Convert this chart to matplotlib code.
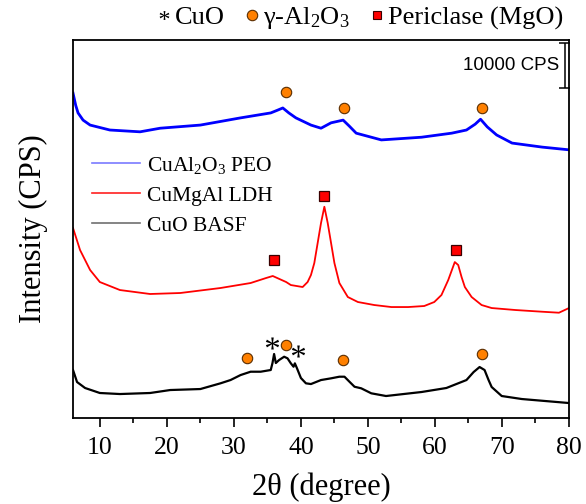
import matplotlib
matplotlib.use("Agg")
import matplotlib.pyplot as plt
from matplotlib.lines import Line2D
from matplotlib.markers import MarkerStyle
from matplotlib.path import Path
from matplotlib.text import TextPath
from matplotlib.font_manager import FontProperties

# ========== CONFIG ==========
OUT_FILE = "out.png"
SERIF = "Liberation Serif"
SANS = "Liberation Sans"
# ============================

# --- XRD patterns (2theta in degree, intensity in CPS, before stacking) ---
peo_tt = [6.0, 6.4, 6.75, 7.5, 8.55, 11.5, 16.0, 19.0, 25.0, 31.0, 35.5, 36.5,
          37.3, 38.2, 39.25, 41.5, 43.0, 44.5, 46.3, 47.2, 48.25, 52.0, 58.0,
          62.5, 64.7, 66.0, 66.8, 67.8, 69.2, 71.5, 76.0, 80.0]
peo_cps = [22200, 19500, 17800, 16200, 15100, 14000, 13600, 14400, 15100, 16700,
           17800, 18400, 18900, 17800, 16700, 15100, 14400, 15600, 16200, 14900,
           13300, 11800, 12400, 13300, 14000, 15300, 16400, 14700, 12900, 11100,
           10200, 9600]

ldh_tt = [6.0, 7.05, 8.55, 10.0, 13.0, 17.5, 22.0, 28.0, 32.5, 34.8, 35.8, 37.8,
          38.5, 40.26, 41.0, 41.5, 42.0, 42.5, 43.0, 43.5, 44.0, 44.5, 45.0,
          45.74, 47.0, 48.5, 50.94, 53.5, 56.0, 58.4, 59.9, 60.97, 61.98, 62.96,
          63.47, 63.97, 64.46, 65.47, 66.96, 68.46, 72.0, 76.0, 78.5, 80.0]
ldh_cps = [22220, 17330, 12890, 10220, 8440, 7560, 7780, 8890, 10000, 11110,
           11560, 10220, 9550, 9110, 10220, 11780, 14440, 18890, 23330, 26950,
           23330, 18890, 14440, 10000, 6890, 5780, 5110, 4660, 4660, 4890, 5780,
           7330, 10660, 14660, 14000, 11330, 9110, 6890, 5110, 4440, 4000, 3620,
           3400, 4440]

cuo_tt = [6.0, 6.6, 7.8, 10.0, 13.0, 17.5, 20.5, 25.0, 28.0, 29.5, 31.0, 32.5,
          34.0, 35.5, 35.76, 36.0, 36.26, 36.75, 37.5, 38.0, 38.5, 38.9, 39.1,
          39.4, 40.0, 40.75, 41.5, 43.0, 44.5, 45.74, 46.5, 47.24, 48.0, 49.0,
          50.5, 52.7, 58.0, 61.7, 64.7, 65.77, 66.66, 67.4, 68.0, 68.46, 69.96,
          72.96, 80.0]
cuo_cps = [10670, 8000, 6670, 5560, 5330, 5560, 6220, 6440, 7710, 8440, 9550,
           10290, 10290, 10670, 12220, 14220, 12220, 12890, 13620, 13270, 12150,
           11400, 12150, 11110, 8890, 7710, 7550, 8440, 8820, 9180, 9180, 8070,
           6950, 6600, 5490, 4890, 5780, 6670, 8440, 10220, 11330, 10670, 8440,
           6890, 4890, 4220, 3330]

offsets = [50000, 20000, 0]
labels = ["CuAl$_2$O$_3$ PEO", "CuMgAl LDH", "CuO BASF"]
colors = ["#0000ff", "#ff0000", "#000000"]
legend_colors = ["#7a7aff", "#ff2020", "#707070"]

# --- phase markers (2theta, stacked height) ---
al2o3_tt = [37.76, 46.44, 66.96, 32.0, 37.76, 46.25, 66.96]
al2o3_y = [72440, 68880, 68880, 13270, 16220, 12890, 14220]
mgo_tt = [35.96, 43.5, 63.07]
mgo_y = [35110, 49330, 37330]
cuo_mark_tt = [35.76, 39.6]
cuo_mark_y = [16730, 14950]

SCALE_CPS = 10000


def star_marker():
    """Times-like asterisk as a marker path, centred on its glyph."""
    tp = TextPath((0, 0), "*", prop=FontProperties(family=SERIF))
    verts = tp.vertices.copy()
    real = tp.codes != Path.CLOSEPOLY
    lo, hi = verts[real].min(axis=0), verts[real].max(axis=0)
    verts -= (lo + hi) / 2
    verts[~real] = 0.0
    return MarkerStyle(Path(verts, tp.codes))


def make_plot():
    plt.rcParams["font.family"] = [SERIF, "DejaVu Serif"]
    plt.rcParams["mathtext.fontset"] = "custom"
    plt.rcParams["mathtext.rm"] = SERIF
    plt.rcParams["mathtext.it"] = SERIF + ":italic"

    fig = plt.figure(figsize=(5.86, 5.04), dpi=100)
    ax = fig.add_axes([0.1246, 0.1706, 0.8464, 0.75])
    star = star_marker()

    patterns = [(peo_tt, peo_cps), (ldh_tt, ldh_cps), (cuo_tt, cuo_cps)]
    widths = [2.0, 1.3, 1.6]
    for (tt, cps), off, c, lw in zip(patterns, offsets, colors, widths):
        ax.plot(tt, [v + off for v in cps], color=c, lw=lw, zorder=2)

    ax.plot(al2o3_tt, al2o3_y, "o", ms=7.5, mfc="#ff8000", mec="#5a2d00",
            mew=0.8, zorder=3)
    ax.plot(mgo_tt, mgo_y, "s", ms=6.5, mfc="#ff0000", mec="#3a0000",
            mew=0.9, zorder=3)
    ax.plot(cuo_mark_tt, cuo_mark_y, ls="none", marker=star, ms=9.5,
            color="black", mew=0, zorder=3)

    # scale bar
    ax.errorbar([79.4], [78440], yerr=SCALE_CPS / 2, color="black",
                capsize=4, lw=1.1, capthick=1.1)
    ax.text(78.5, 78440, "%d CPS" % SCALE_CPS, ha="right", va="center",
            fontsize=13.5, family=SANS)

    ax.set_xlim(6, 80)
    ax.set_ylim(0, 84000)
    ax.set_xticks(range(10, 81, 10))
    ax.set_xticks(range(15, 80, 10), minor=True)
    ax.set_yticks([])
    ax.tick_params(axis="x", which="major", direction="out", length=6.5,
                   width=1.2, labelsize=18.5, pad=7)
    ax.tick_params(axis="x", which="minor", direction="out", length=3.5,
                   width=1.2)
    for sp in ax.spines.values():
        sp.set_linewidth(1.3)

    ax.set_xlabel("2θ (degree)", fontsize=22, labelpad=10)
    ax.set_ylabel("Intensity (CPS)", fontsize=22, labelpad=18)

    handles = [Line2D([], [], color=c, lw=1.2) for c in legend_colors]
    ax.legend(handles, labels, loc="upper left", bbox_to_anchor=(0.0, 0.747),
              frameon=False, fontsize=15.5, handlelength=2.2,
              handletextpad=0.33, labelspacing=0.45)

    top_handles = [
        Line2D([], [], ls="none", marker=star, ms=7, color="black", mew=0),
        Line2D([], [], ls="none", marker="o", ms=7.5, mfc="#ff8000",
               mec="#5a2d00", mew=0.8),
        Line2D([], [], ls="none", marker="s", ms=6, mfc="#ff0000",
               mec="#3a0000", mew=0.8),
    ]
    top_labels = ["CuO", "γ-Al$_2$O$_3$", "Periclase (MgO)"]
    fig.legend(top_handles, top_labels, loc="upper right",
               bbox_to_anchor=(0.965, 0.995), ncol=3, frameon=False,
               fontsize=19, handlelength=0.5, handletextpad=0.15,
               columnspacing=0.8, borderaxespad=0, borderpad=0.1)

    fig.savefig(OUT_FILE, dpi=100)
    plt.close(fig)


def main():
    make_plot()


if __name__ == "__main__":
    main()
